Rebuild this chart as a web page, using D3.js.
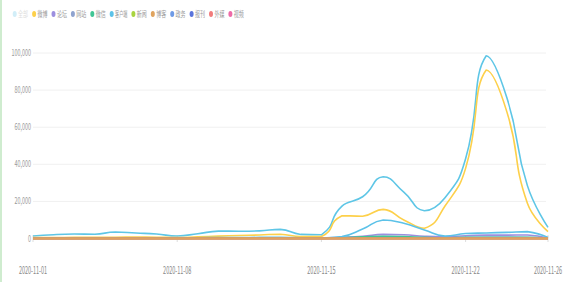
<!DOCTYPE html>
<html>
<head>
<meta charset="utf-8">
<script src="https://cdn.jsdelivr.net/npm/d3@7"></script>
<style>
  body { margin: 0; background: #fff; }
  text { font-family: "Noto Sans CJK SC", "Noto Sans", sans-serif; }
</style>
</head>
<body>
<div id="chart"></div>
<script>
// size of the whole picture
const width = 574;
const height = 282;

// dates 2020-11-01 .. 2020-11-26
var days = d3.range(1, 27).map(function(d) {
  return '2020-11-' + (d < 10 ? '0' + d : d);
});
var tickDays = ['2020-11-01', '2020-11-08', '2020-11-15', '2020-11-22', '2020-11-26'];
var yTicks = [0, 20000, 40000, 60000, 80000, 100000];

var names = ['全部', '微博', '论坛', '网站', '微信', '客户端', '新闻', '博客', '政务', '报刊', '外媒', '视频'];
var colors = ['#5ec6e6', '#fdd04a', '#9c8fdf', '#8fa3cf', '#41c595', '#5cc2e8', '#a9d43f', '#e0a35e', '#6f9be6', '#5a74dc', '#f27c7c', '#ee6aa8'];

// values, one per day
var vAll     = [1350, 2050, 2400, 2300, 3500, 2950, 2400, 1350, 2600, 4000, 3900, 4100, 4900, 2200, 2000, 17500, 22500, 33300, 25000, 15000, 22000, 43000, 98500, 76000, 28500, 6000];
var vWeibo   = [500, 550, 600, 650, 700, 750, 700, 500, 900, 1300, 1600, 1900, 2300, 1000, 1000, 12300, 12000, 15700, 10000, 5500, 17500, 37800, 90800, 68400, 19000, 3700];
var vLuntan  = [200, 200, 200, 200, 250, 250, 200, 200, 250, 300, 300, 300, 350, 200, 200, 600, 1200, 2200, 2000, 1200, 900, 1500, 1800, 1800, 1900, 300];
var vWangzhan= [150, 150, 150, 150, 150, 150, 150, 150, 200, 200, 200, 200, 200, 150, 150, 300, 500, 700, 600, 400, 300, 500, 600, 600, 500, 150];
var vWeixin  = [100, 100, 100, 100, 100, 100, 100, 100, 150, 150, 150, 150, 150, 100, 100, 500, 900, 1200, 1000, 600, 400, 600, 700, 700, 600, 150];
var vKehu    = [300, 300, 350, 350, 400, 400, 350, 300, 400, 500, 500, 600, 600, 400, 300, 1000, 5100, 10000, 8200, 4600, 1300, 2700, 3000, 3300, 3700, 500];
var vXinwen  = [80, 80, 80, 80, 80, 80, 80, 80, 100, 100, 100, 100, 100, 80, 80, 200, 300, 400, 350, 250, 200, 300, 350, 350, 300, 80];
var vBoke    = [30, 30, 30, 30, 30, 30, 30, 30, 30, 30, 30, 30, 30, 30, 30, 40, 50, 60, 50, 40, 40, 50, 60, 60, 50, 30];
var vZhengwu = [20, 20, 20, 20, 20, 20, 20, 20, 20, 20, 20, 20, 20, 20, 20, 30, 40, 50, 40, 30, 30, 40, 50, 50, 40, 20];
var vBaokan  = [20, 20, 20, 20, 20, 20, 20, 20, 20, 20, 20, 20, 20, 20, 20, 30, 40, 60, 50, 30, 30, 50, 60, 60, 50, 20];
var vWaimei  = [10, 10, 10, 10, 10, 10, 10, 10, 10, 10, 10, 10, 10, 10, 10, 10, 20, 20, 20, 10, 10, 20, 20, 20, 20, 10];
var vShipin  = [10, 10, 10, 10, 10, 10, 10, 10, 10, 10, 10, 10, 10, 10, 10, 20, 30, 40, 30, 20, 20, 30, 40, 40, 30, 10];

var values = [vAll, vWeibo, vLuntan, vWangzhan, vWeixin, vKehu, vXinwen, vBoke, vZhengwu, vBaokan, vWaimei, vShipin];

/**
smooth curve that weights the control points by segment length,
gives the little shoulders the original lines have.
xStretch: how much x counts when the segment lengths are measured
*/
var xStretch = 0.4;
function SmoothCurve(context) { this._context = context; }
SmoothCurve.prototype = {
  areaStart: function() {},
  areaEnd: function() {},
  lineStart: function() { this._pts = []; },
  point: function(px, py) { this._pts.push([+px, +py]); },
  lineEnd: function() {
    var p = this._pts, n = p.length, ctx = this._context, s = 0.5;
    if (!n) return;
    // forward and backward control points of each point
    var fw = [], bw = [];
    for (var i = 0; i < n; i++) {
      if (i === 0 || i === n - 1) {
        fw.push(p[i]); bw.push(p[i]);
        continue;
      }
      var pr = p[i - 1], cu = p[i], nx = p[i + 1];
      var vx = nx[0] - pr[0], vy = nx[1] - pr[1];
      var l0 = Math.hypot((cu[0] - pr[0]) * xStretch, cu[1] - pr[1]);
      var l1 = Math.hypot((nx[0] - cu[0]) * xStretch, nx[1] - cu[1]);
      var r = l1 / (l0 + l1);
      var fx = cu[0] + vx * s * r, fy = cu[1] + vy * s * r;
      var bx = cu[0] - vx * s * (1 - r), by = cu[1] - vy * s * (1 - r);
      fx = Math.min(Math.max(fx, Math.min(nx[0], cu[0])), Math.max(nx[0], cu[0]));
      fy = Math.min(Math.max(fy, Math.min(nx[1], cu[1])), Math.max(nx[1], cu[1]));
      bx = Math.min(Math.max(bx, Math.min(pr[0], cu[0])), Math.max(pr[0], cu[0]));
      by = Math.min(Math.max(by, Math.min(pr[1], cu[1])), Math.max(pr[1], cu[1]));
      fw.push([fx, fy]); bw.push([bx, by]);
    }
    ctx.moveTo(p[0][0], p[0][1]);
    for (var j = 1; j < n; j++) {
      ctx.bezierCurveTo(fw[j - 1][0], fw[j - 1][1], bw[j][0], bw[j][1], p[j][0], p[j][1]);
    }
  }
};
function smoothCurve(context) { return new SmoothCurve(context); }

var svg = d3.select('#chart')
  .append('svg')
  .attr('width', width)
  .attr('height', height);

// light green strip on the left edge
svg.append('rect')
  .attr('x', 0).attr('y', 0)
  .attr('width', 2).attr('height', height)
  .style('fill', '#cfeccf');

var x = d3.scalePoint()
  .domain(days)
  .range([33, 548]);

var y = d3.scaleLinear()
  .domain([0, 100000])
  .range([238.5, 53]);

// grid lines
svg.selectAll('.grid')
  .data(yTicks)
  .enter().append('line')
  .attr('class', 'grid')
  .attr('x1', 33).attr('x2', 546)
  .attr('y1', function(d) { return y(d); })
  .attr('y2', function(d) { return y(d); })
  .style('stroke', '#f0f0f0')
  .style('stroke-width', 1);

// y labels, squeezed like the original
svg.selectAll('.ylab')
  .data(yTicks)
  .enter().append('text')
  .attr('class', 'ylab')
  .attr('transform', function(d) { return 'translate(31,' + (y(d) + 3) + ') scale(0.6,1)'; })
  .style('font-size', '9px')
  .style('text-anchor', 'end')
  .style('fill', '#999')
  .text(function(d) { return d3.format(',')(d); });

// small ticks on the x axis
svg.selectAll('.xtick')
  .data(tickDays)
  .enter().append('line')
  .attr('x1', function(d) { return x(d); })
  .attr('x2', function(d) { return x(d); })
  .attr('y1', 235).attr('y2', 242)
  .style('stroke', '#ddd')
  .style('stroke-width', 1);

svg.selectAll('.xlab')
  .data(tickDays)
  .enter().append('text')
  .attr('class', 'xlab')
  .attr('transform', function(d) { return 'translate(' + x(d) + ',274) scale(0.55,1)'; })
  .style('font-size', '10px')
  .style('text-anchor', 'middle')
  .style('fill', '#888')
  .text(function(d) { return d; });

// lines
var line = d3.line()
  .x(function(d, i) { return x(days[i]); })
  .y(function(d) { return y(d); })
  .curve(smoothCurve);

// orange sits on top at the bottom edge, so draw it last
var order = [0, 1, 2, 3, 4, 5, 6, 8, 9, 10, 11, 7];
order.forEach(function(k) {
  svg.append('path')
    .datum(values[k])
    .attr('d', line)
    .style('fill', 'none')
    .style('stroke', colors[k])
    .style('stroke-width', k === 7 ? 2.5 : 1.6)
    .style('stroke-linejoin', 'round');
});

// legend
var lx = 14.7;
names.forEach(function(n, i) {
  var g = svg.append('g').attr('transform', 'translate(' + lx + ',14)');
  g.append('ellipse')
    .attr('rx', 2).attr('ry', 3)
    .style('fill', i === 0 ? '#d2eef8' : colors[i]);
  var tw = 5.4 + 2.3 * n.length;
  var t = g.append('text')
    .style('font-size', '8px')
    .style('fill', i === 0 ? '#ddd' : '#999')
    .text(n);
  var sx = tw / t.node().getComputedTextLength();
  t.attr('transform', 'translate(3.4,3) scale(' + sx + ',1)');
  lx += 14.8 + 2.3 * n.length;
});
</script>
</body>
</html>
